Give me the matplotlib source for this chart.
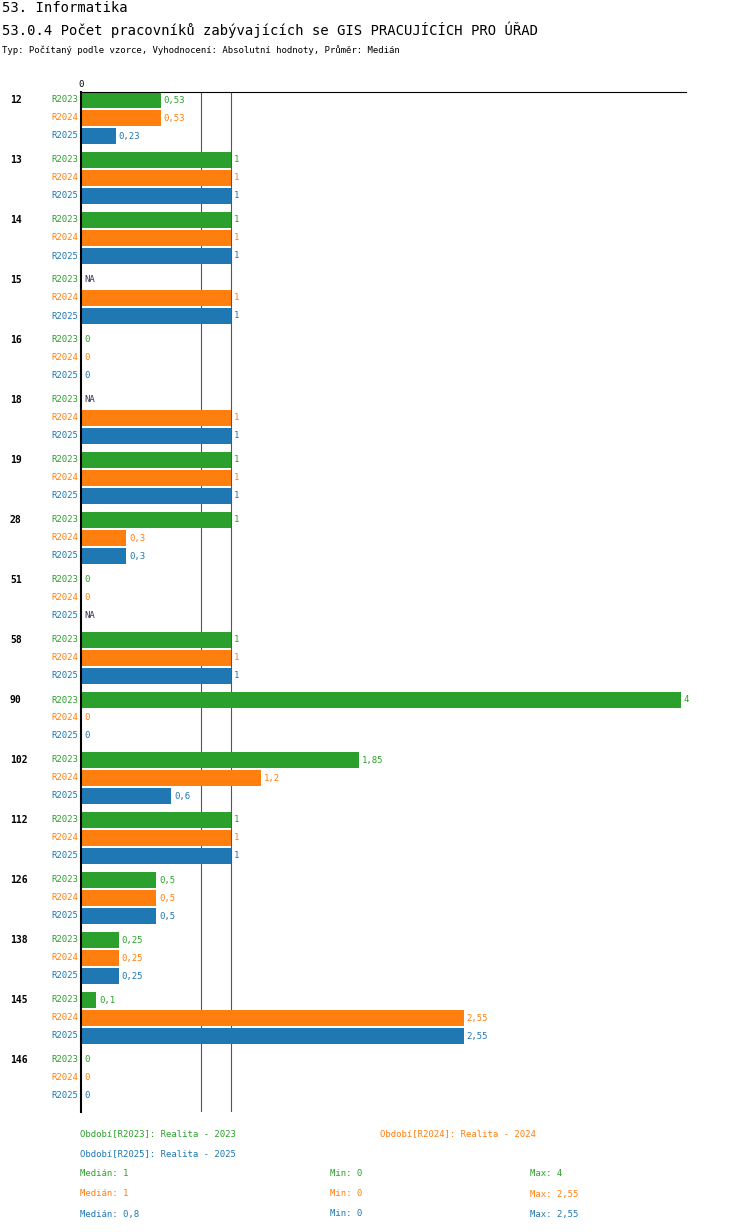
import matplotlib
matplotlib.use("Agg")
import matplotlib.pyplot as plt

groups = ["12","13","14","15","16","18","19","28","51","58","90","102","112","126","138","145","146"]
series = ["R2023","R2024","R2025"]
colors = ["#2ca02c","#ff7f0e","#1f77b4"]
r2023 = [0.53,1,1,None,0,None,1,1,0,1,4,1.85,1,0.5,0.25,0.1,0]
r2024 = [0.53,1,1,1,0,1,1,0.3,0,1,0,1.2,1,0.5,0.25,2.55,0]
r2025 = [0.23,1,1,1,0,1,1,0.3,None,1,0,0.6,1,0.5,0.25,2.55,0]
values = [r2023, r2024, r2025]
medians = [1, 1, 0.8]
mins = [0, 0, 0]
maxs = [4, 2.55, 2.55]
period_names = ["Období[R2023]: Realita - 2023","Období[R2024]: Realita - 2024","Období[R2025]: Realita - 2025"]

W, H = 750, 1232
fig = plt.figure(figsize=(7.5, 12.32), dpi=100)
mono = "DejaVu Sans Mono"
plt.rcParams['font.family'] = mono

x0, x1 = 81, 686
ytop, ybot = 92, 1112
scale = 150.0
ax = fig.add_axes([x0/W, 1-ybot/H, (x1-x0)/W, (ybot-ytop)/H])
ax.set_xlim(0, (x1-x0)/scale)
ax.set_ylim(ybot, ytop)
for s in ["right","bottom"]:
    ax.spines[s].set_visible(False)
ax.spines["top"].set_linewidth(0.8)
ax.spines["left"].set_linewidth(1.5)
ax.set_xticks([0]); ax.set_xticklabels(["0"], fontsize=6.5)
ax.xaxis.tick_top(); ax.tick_params(axis='x', length=0, pad=2)
ax.set_yticks([])
for xv in [0.8, 1.0]:
    ax.axvline(xv, color="#555555", lw=0.8, zorder=0)

def fmt(v):
    s = f"{v:.2f}".rstrip("0").rstrip(".")
    return s.replace(".", ",")

for g, name in enumerate(groups):
    for k in range(3):
        yc = 100 + 60*g + 18*k
        v = values[k][g]
        if v is not None and v > 0:
            ax.barh(yc, v, height=16, color=colors[k], zorder=2)
        txt = "NA" if v is None else fmt(v)
        ax.text((v or 0) + 3/scale, yc, txt, color=colors[k] if v is not None else "#333355",
                fontsize=6.5, va="center", ha="left")
        fig.text(78/W, 1-yc/H, series[k], color=colors[k], fontsize=6.5, ha="right", va="center")
    fig.text(10/W, 1-(100+60*g)/H, name, fontsize=7, fontweight="bold", va="center")

fig.text(2/W, 1-8/H, "53. Informatika", fontsize=10, va="center")
fig.text(2/W, 1-30/H, "53.0.4 Počet pracovníků zabývajících se GIS PRACUJÍCÍCH PRO ÚŘAD", fontsize=10, va="center")
fig.text(2/W, 1-50/H, "Typ: Počítaný podle vzorce, Vyhodnocení: Absolutní hodnoty, Průměr: Medián", fontsize=6.5, va="center")

fig.text(80/W, 1-1134/H, period_names[0], color=colors[0], fontsize=6.5, va="center")
fig.text(380/W, 1-1134/H, period_names[1], color=colors[1], fontsize=6.5, va="center")
fig.text(80/W, 1-1154/H, period_names[2], color=colors[2], fontsize=6.5, va="center")
for k in range(3):
    y = 1-(1174+20*k)/H
    fig.text(80/W, y, "Medián: " + fmt(medians[k]), color=colors[k], fontsize=6.5, va="center")
    fig.text(330/W, y, "Min: " + fmt(mins[k]), color=colors[k], fontsize=6.5, va="center")
    fig.text(530/W, y, "Max: " + fmt(maxs[k]), color=colors[k], fontsize=6.5, va="center")

fig.savefig("out.png", dpi=100)
